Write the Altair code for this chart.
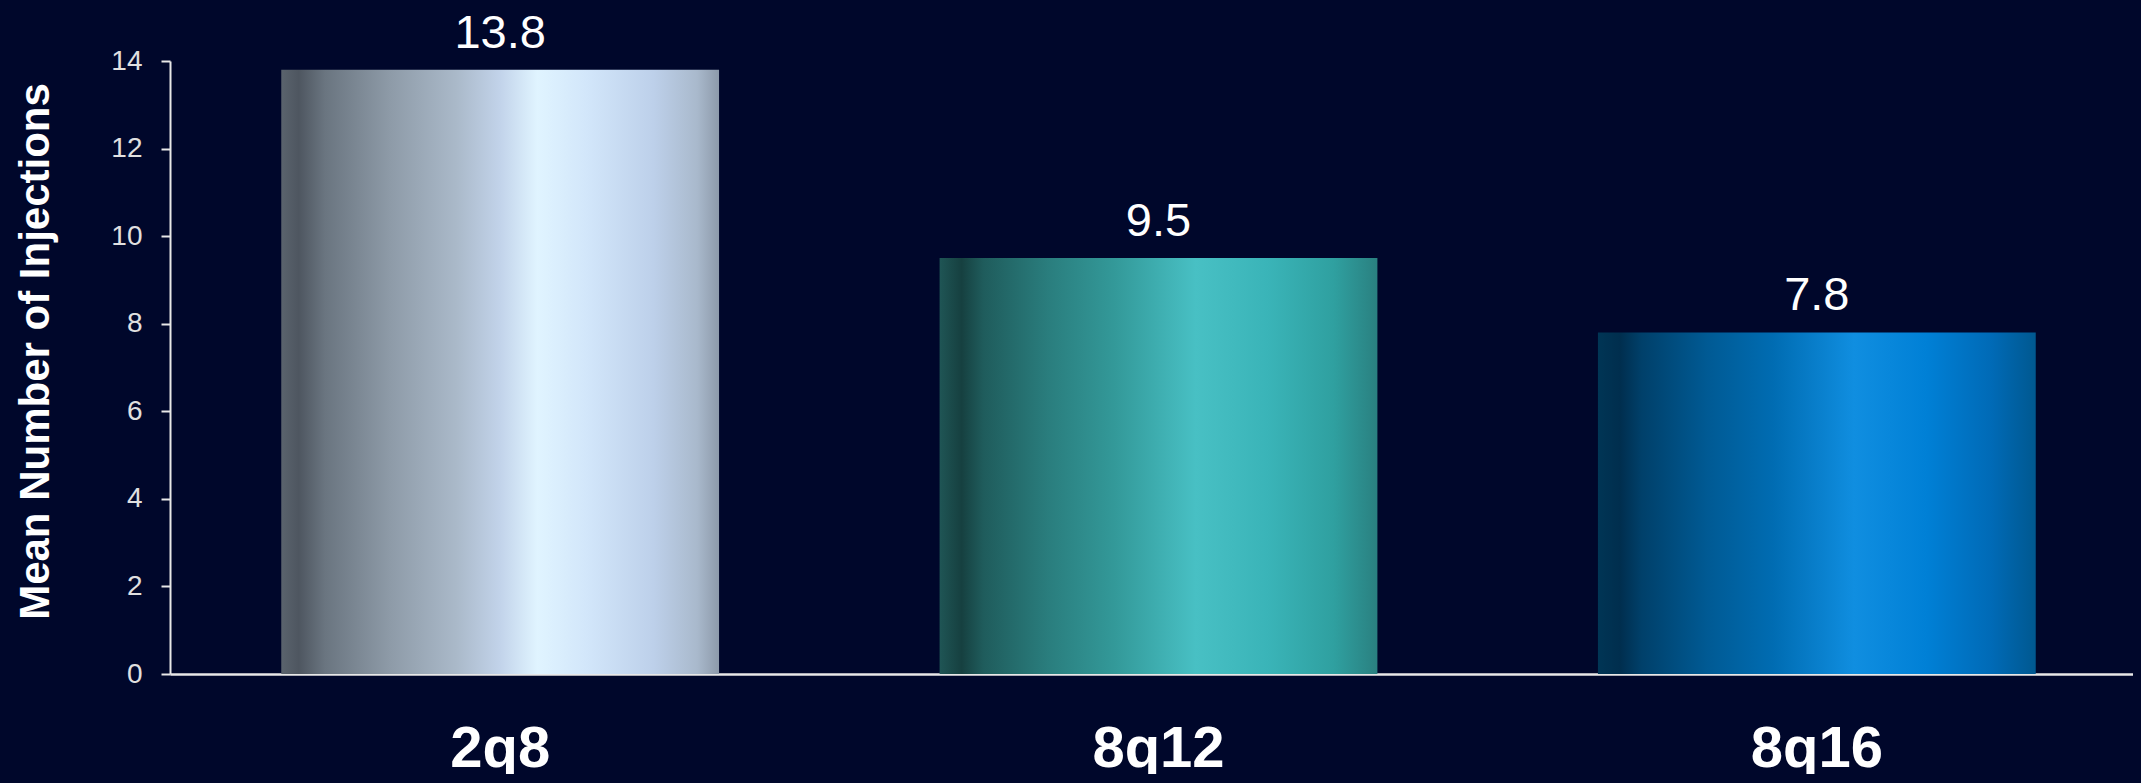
import altair as alt
import pandas as pd

categories = ["2q8", "8q12", "8q16"]
values = [13.8, 9.5, 7.8]
labels = ["13.8", "9.5", "7.8"]
y_ticks = [0, 2, 4, 6, 8, 10, 12, 14]

BG = "#00072b"

gradients = {
    "2q8": [("#5a636d", 0.0), ("#4e5660", 0.04), ("#6a7580", 0.1), ("#8e9ba8", 0.25),
            ("#aab9c9", 0.4), ("#c2d3ea", 0.5), ("#e0f4ff", 0.585), ("#d2e6fa", 0.7),
            ("#bdd0ea", 0.85), ("#a9b9cc", 0.95), ("#8d9aaa", 1.0)],
    "8q12": [("#1f5555", 0.0), ("#164040", 0.05), ("#1f5c5c", 0.1), ("#2a7e7e", 0.25),
             ("#339999", 0.4), ("#48c0c4", 0.585), ("#3ab4b8", 0.75), ("#2fa0a0", 0.9),
             ("#2a8080", 1.0)],
    "8q16": [("#003555", 0.0), ("#002e4e", 0.05), ("#00406a", 0.1), ("#005a94", 0.25),
             ("#006cb2", 0.4), ("#108ee0", 0.585), ("#0080d6", 0.75), ("#006ab6", 0.9),
             ("#005890", 1.0)],
}

# dark page background around the chart (page margin)
try:
    import altair.utils.html as _h

    class _BgTemplate:
        def __init__(self, orig):
            self.orig = orig

        def render(self, *args, **kwargs):
            out = self.orig.render(*args, **kwargs)
            return out.replace(
                "<head>",
                "<head><style>html,body{background:" + BG + ";}</style>", 1,
            )

    if "standard" in _h.TEMPLATES and not isinstance(_h.TEMPLATES["standard"], _BgTemplate):
        _h.TEMPLATES["standard"] = _BgTemplate(_h.TEMPLATES["standard"])
except Exception:
    pass

df = pd.DataFrame({"cat": categories, "value": values, "label": labels})

W = 1963
H = 613

x_enc = alt.X(
    "cat:N",
    sort=categories,
    scale=alt.Scale(domain=categories, range=[0, 1977], paddingInner=0.335, paddingOuter=0.169),
    axis=alt.Axis(
        title=None, labelAngle=0, ticks=False, tickSize=0,
        labelFont="Liberation Sans, Arial, sans-serif", labelFontSize=58, labelFontWeight="bold",
        labelColor="#ffffff", labelBaseline="alphabetic", labelPadding=92,
        domainColor="#e8e8e8", domainWidth=2.5, grid=False,
    ),
)
y_enc = alt.Y(
    "value:Q",
    scale=alt.Scale(domain=[0, 14], nice=False),
    axis=alt.Axis(
        title="Mean Number of Injections", values=y_ticks, grid=False,
        labelFont="Liberation Sans, Arial, sans-serif", labelFontSize=28, labelColor="#e0e0e0",
        labelPadding=19, tickSize=9, tickColor="#e8e8e8", tickWidth=2,
        domainColor="#e8e8e8", domainWidth=2,
        titleFont="Liberation Sans, Arial, sans-serif", titleFontSize=42, titleFontWeight="bold",
        titleColor="#ffffff", titleX=-122, titleY=290, titleAngle=270,
        titleBaseline="alphabetic", titleAlign="center",
    ),
)

layers = []
for c in categories:
    grad = alt.Gradient(
        gradient="linear",
        stops=[alt.GradientStop(color=col, offset=off) for col, off in gradients[c]],
        x1=0, x2=1, y1=0, y2=0,
    )
    layers.append(
        alt.Chart(df).transform_filter(alt.datum.cat == c)
        .mark_bar(color=grad, cornerRadius=0)
        .encode(x=x_enc, y=y_enc)
    )

text = alt.Chart(df).mark_text(
    font="Liberation Sans, Arial, sans-serif", fontSize=47, color="#ffffff",
    baseline="alphabetic", dy=-22,
).encode(x=alt.X("cat:N", sort=categories), y="value:Q", text="label:N")

chart = alt.layer(*layers, text).properties(
    width=W, height=H, background=BG,
    padding={"left": 162, "top": 53, "right": 0, "bottom": 100},
    autosize=alt.AutoSizeParams(type="none"),
).configure_view(stroke=None)

chart.save("out.html", embed_options={"renderer": "svg", "actions": False})
